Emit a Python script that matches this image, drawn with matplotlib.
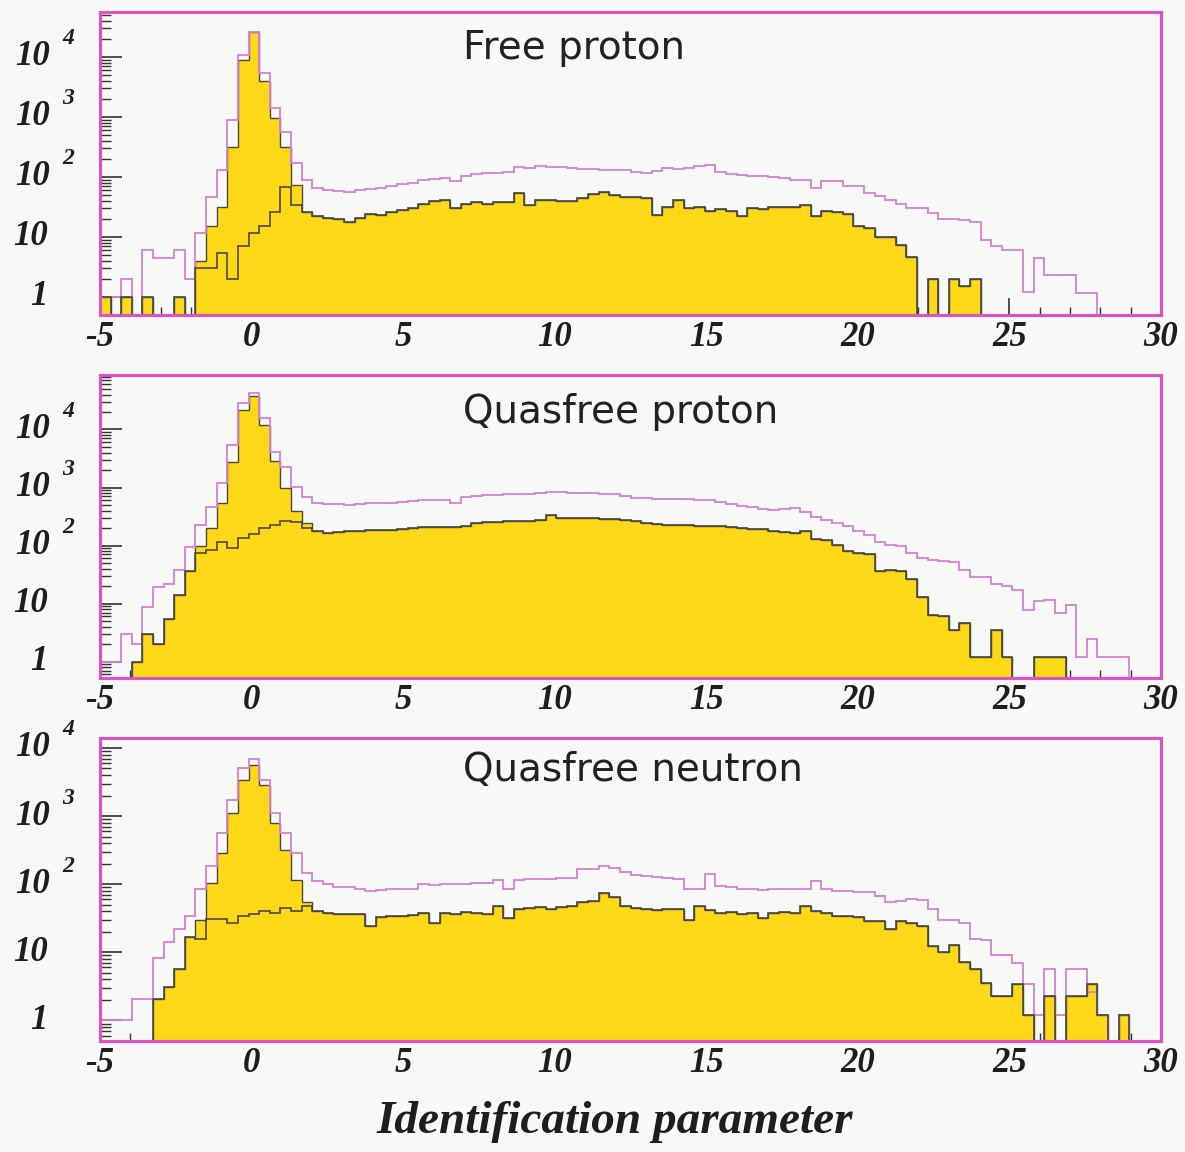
import matplotlib.pyplot as plt
import numpy as np
from matplotlib.ticker import FixedLocator, LogLocator, NullFormatter

# 100 bins of width 0.35 between -5 and 30
edges = np.linspace(-5, 30, 101)

# ---- Free proton
free_yellow = [1, 0, 1, 0, 1, 0, 0, 1, 0, 4,
               15, 32, 320, 8900, 26000, 3900, 950, 320, 73, 26,
               22, 21, 20, 18, 21, 24, 23, 26, 28, 30,
               36, 40, 41, 30, 36, 38, 36, 38, 38, 54,
               34, 42, 41, 40, 40, 44, 52, 56, 50, 47,
               46, 44, 23, 32, 42, 30, 31, 27, 29, 27,
               22, 30, 29, 31, 32, 32, 34, 22, 27, 26,
               24, 15, 14, 10, 10, 7.4, 4.7, 0, 2, 0,
               2, 1.5, 2, 0, 0, 0, 0, 0, 0, 0,
               0, 0, 0, 0, 0, 0, 0, 0, 0, 0]
free_dark = [1, 0, 1, 0, 1, 0, 0, 1, 0, 3,
             3, 5.3, 2, 7, 11.5, 15, 26, 69, 34, 26,
             22, 21, 20, 18, 21, 24, 23, 26, 28, 30,
             36, 40, 41, 30, 36, 38, 36, 38, 38, 54,
             34, 42, 41, 40, 40, 44, 52, 56, 50, 47,
             46, 44, 23, 32, 42, 30, 31, 27, 29, 27,
             22, 30, 29, 31, 32, 32, 34, 22, 27, 26,
             24, 15, 14, 10, 10, 7.4, 4.7, 0, 2, 0,
             2, 1.5, 2, 0, 0, 0, 0, 0, 0, 0,
             0, 0, 0, 0, 0, 0, 0, 0, 0, 0]
free_pink = [1, 1, 2, 0, 6, 4.4, 4.4, 6, 2, 11.5,
             47, 130, 890, 10700, 26000, 5300, 1400, 570, 170, 89,
             65, 60, 58, 55, 60, 62, 66, 70, 75, 80,
             89, 92, 95, 85, 105, 112, 115, 118, 120, 145,
             140, 150, 148, 145, 140, 135, 138, 130, 132, 128,
             120, 115, 125, 140, 135, 142, 150, 160, 120, 112,
             108, 105, 102, 100, 95, 89, 89, 65, 84, 84,
             70, 70, 53, 48, 41, 35, 30, 30, 25, 20,
             20, 19, 18, 9, 7, 6, 6, 1.2, 4.4, 2.3,
             2.3, 2.3, 1.15, 1.15, 0, 0, 0, 0, 0, 0]

# ---- Quasifree proton
qp_yellow = [0, 0, 0, 1, 3, 2, 5.5, 14, 36, 100,
             200, 550, 2800, 22000, 38000, 12000, 2900, 1000, 400, 240,
             175, 165, 170, 175, 180, 182, 185, 188, 192, 200,
             205, 210, 212, 205, 220, 240, 250, 255, 260, 262,
             265, 270, 340, 300, 295, 300, 298, 290, 285, 275,
             260, 245, 235, 230, 228, 222, 218, 215, 213, 205,
             200, 195, 190, 180, 170, 165, 175, 130, 125, 102,
             80, 73, 70, 36, 38, 37, 26, 13, 6.4, 6,
             3.5, 4.6, 1.2, 1.2, 3.5, 1.2, 0, 0, 1.2, 1.2,
             1.2, 0, 0, 0, 0, 0, 0, 0, 0, 0]
qp_dark = [0, 0, 0, 1, 3, 2, 5.5, 14, 36, 75,
           84, 115, 91, 135, 160, 200, 230, 260, 250, 200,
           175, 165, 170, 175, 180, 182, 185, 188, 192, 200,
           205, 210, 212, 205, 220, 240, 250, 255, 260, 262,
           265, 270, 340, 300, 295, 300, 298, 290, 285, 275,
           260, 245, 235, 230, 228, 222, 218, 215, 213, 205,
           200, 195, 190, 180, 170, 165, 175, 130, 125, 102,
           80, 73, 70, 36, 38, 37, 26, 13, 6.4, 6,
           3.5, 4.6, 1.2, 1.2, 3.5, 1.2, 0, 0, 1.2, 1.2,
           1.2, 0, 0, 0, 0, 0, 0, 0, 0, 0]
qp_pink = [1, 1, 3, 2, 8.7, 19, 22, 38, 95, 230,
           470, 1200, 5500, 29000, 43000, 16000, 4100, 2300, 1020, 690,
           540, 520, 510, 500, 520, 530, 537, 550, 570, 590,
           600, 610, 620, 540, 680, 720, 740, 750, 760, 770,
           780, 800, 850, 830, 810, 800, 790, 780, 760, 700,
           650, 660, 640, 635, 630, 630, 620, 600, 560, 520,
           480, 470, 430, 410, 420, 440, 380, 315, 280, 240,
           213, 180, 150, 117, 102, 100, 73, 60, 56, 54,
           52, 38, 29, 29, 22, 20, 17, 7.8, 11, 11.5,
           7, 9.5, 1.2, 2.4, 1.2, 1.2, 1.2, 0, 0, 0]

# ---- Quasifree neutron
qn_yellow = [0, 0, 0, 0, 0, 2.1, 3.1, 5.7, 17, 30,
             105, 290, 1120, 3400, 5700, 2900, 800, 320, 117, 54,
             40, 38, 37, 36, 37, 24, 33, 34, 34, 35,
             38, 27, 38, 37, 39, 38, 37, 48, 32, 44,
             45, 46, 44, 47, 48, 54, 56, 75, 66, 48,
             45, 43, 42, 44, 43, 30, 48, 42, 38, 39,
             37, 38, 32, 38, 39, 38, 48, 40, 38, 34,
             34, 33, 29, 29, 22, 29, 27, 24, 12.4, 10,
             13, 7.1, 5.7, 3.6, 2.3, 2.3, 3.4, 1.2, 0, 2.3,
             0, 2.3, 2.3, 3.4, 1.2, 0, 1.2, 0, 0, 0]
qn_dark = [0, 0, 0, 0, 0, 2.1, 3.1, 5.7, 17, 15.6,
           31, 31, 27, 34, 36, 40, 38, 45, 40, 48,
           40, 38, 37, 36, 37, 24, 33, 34, 34, 35,
           38, 27, 38, 37, 39, 38, 37, 48, 32, 44,
           45, 46, 44, 47, 48, 54, 56, 75, 66, 48,
           45, 43, 42, 44, 43, 30, 48, 42, 38, 39,
           37, 38, 32, 38, 39, 38, 48, 40, 38, 34,
           34, 33, 29, 29, 22, 29, 27, 24, 12.4, 10,
           13, 7.1, 5.7, 3.6, 2.3, 2.3, 3.4, 1.2, 0, 2.3,
           0, 2.3, 2.3, 3.4, 1.2, 0, 1.2, 0, 0, 0]
qn_pink = [1, 1, 1, 2.1, 2.1, 8.4, 14, 22, 34, 84,
           185, 570, 1740, 5000, 7000, 3400, 1120, 570, 290, 147,
           111, 100, 92, 90, 86, 80, 82, 84, 85, 86,
           100, 98, 100, 102, 100, 103, 105, 117, 84, 117,
           118, 120, 118, 122, 125, 165, 170, 184, 175, 150,
           135, 130, 128, 125, 120, 84, 86, 140, 94, 92,
           86, 84, 83, 84, 85, 84, 84, 111, 85, 80,
           80, 78, 76, 67, 54, 56, 60, 58, 43, 30,
           30, 27, 15.6, 15, 9, 9, 7, 3.4, 1.2, 5.7,
           1.2, 5.7, 5.7, 2.6, 1.2, 0, 1.2, 0, 0, 0]

titles = ["Free proton", "Quasfree proton", "Quasfree neutron"]
ylims = [(0.5, 5.6e4), (0.52, 8.7e4), (0.5, 1.4e4)]
yticks = [1, 10, 100, 1000, 10000]
xticks = [-5, 0, 5, 10, 15, 20, 25, 30]

YELLOW = "#ffd817"
DARK = "#4a4a42"
PINK = "#d77fd8"
FRAME = "#e050c8"
BG = "#f8f8f6"
TXT = "#1e1e1e"
serif = dict(family="Liberation Serif", weight="bold", style="italic", color=TXT)

W, H = 1185, 1152
# (top, bottom) of each frame in pixels
frames = [(12, 315), (375, 678), (738, 1041)]
left_px, right_px = 100, 1161


def pos(v):
    v = np.asarray(v, dtype=float)
    return np.where(v > 0, v, 1e-3)


fig = plt.figure(figsize=(W / 100, H / 100), dpi=100, facecolor=BG)

data = [(free_yellow, free_dark, free_pink),
        (qp_yellow, qp_dark, qp_pink),
        (qn_yellow, qn_dark, qn_pink)]

title_y = [0.881, 0.878, 0.894]

for k, ((top, bot), (ya, yb, yc)) in enumerate(zip(frames, data)):
    ax = fig.add_axes([left_px / W, 1 - bot / H, (right_px - left_px) / W, (bot - top) / H])
    ax.set_facecolor(BG)
    ax.set_yscale("log")

    ax.stairs(pos(ya), edges, baseline=1e-3, fill=True, facecolor=YELLOW,
              edgecolor=DARK, linewidth=1.0, zorder=1)
    ax.stairs(pos(yc), edges, baseline=1e-3, color=PINK, linewidth=1.3, zorder=2)
    ax.stairs(pos(yb), edges, baseline=1e-3, color=DARK, linewidth=1.2, zorder=3)

    ax.set_xlim(-5, 30)
    ax.set_ylim(*ylims[k])
    ax.set_axisbelow(True)

    for sp in ax.spines.values():
        sp.set_color(FRAME)
        sp.set_linewidth(2.2)
        sp.set_zorder(5)

    ax.set_xticks(xticks)
    ax.set_xticks(np.arange(-5, 31, 1), minor=True)
    ax.set_xticklabels([str(t) for t in xticks], fontsize=25, **serif)
    ax.yaxis.set_major_locator(FixedLocator(yticks))
    ax.yaxis.set_minor_locator(LogLocator(base=10, subs=np.arange(2, 10)))
    ax.yaxis.set_major_formatter(NullFormatter())
    ax.yaxis.set_minor_formatter(NullFormatter())

    ax.tick_params(which="both", direction="in", color="#333333", top=False, right=False)
    ax.tick_params(axis="x", which="major", length=12, width=1.2, pad=4)
    ax.tick_params(axis="x", which="minor", length=6, width=1.0)
    ax.tick_params(axis="y", which="major", length=16, width=1.2)
    ax.tick_params(axis="y", which="minor", length=8, width=1.0)

    # ROOT style y labels: 1, 10, 10^2 ...
    ytr = ax.get_yaxis_transform()
    for t in yticks:
        e = int(round(np.log10(t)))
        if t >= 100:
            ax.annotate("10", xy=(0, t), xycoords=ytr, xytext=(-50, 0),
                        textcoords="offset pixels", ha="right", va="center",
                        fontsize=25, annotation_clip=False, **serif)
            ax.annotate(str(e), xy=(0, t), xycoords=ytr, xytext=(-38, 18),
                        textcoords="offset pixels", ha="left", va="center",
                        fontsize=17, annotation_clip=False, **serif)
        else:
            ax.annotate(str(t), xy=(0, t), xycoords=ytr, xytext=(-52, 0),
                        textcoords="offset pixels", ha="right", va="center",
                        fontsize=25, annotation_clip=False, **serif)

    ax.text(0.342, title_y[k], titles[k], transform=ax.transAxes, fontsize=28,
            family="DejaVu Sans", ha="left", va="center", color="#222222")

fig.text(615 / W, 1 - 1122 / H, "Identification parameter", ha="center", va="center",
         fontsize=34, **serif)

fig.savefig("out.png", dpi=100, facecolor=BG)
